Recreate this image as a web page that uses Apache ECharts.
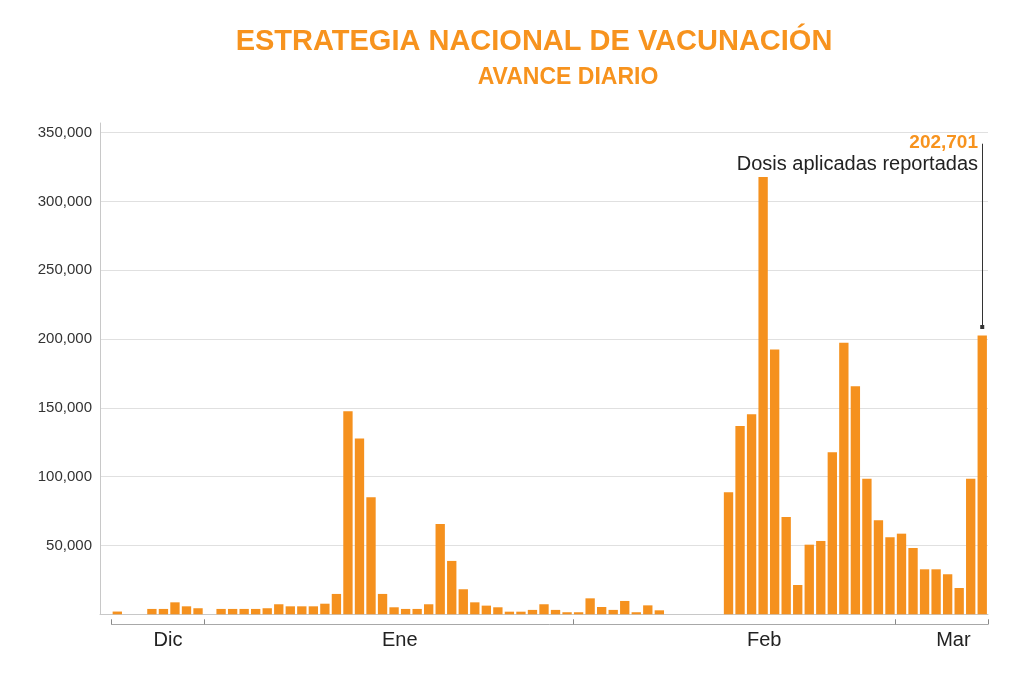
<!DOCTYPE html>
<html>
<head>
<meta charset="utf-8">
<script src="https://cdn.jsdelivr.net/npm/echarts@6/dist/echarts.min.js"></script>
<style>
html,body{margin:0;padding:0;background:#fff;}
#chart{width:1024px;height:683px;}
</style>
</head>
<body>
<div id="chart"></div>
<script>
// ---- data ----
const categories = [
  '2020-12-23','2020-12-24','2020-12-25','2020-12-26','2020-12-27','2020-12-28','2020-12-29','2020-12-30','2020-12-31',
  '2021-01-01','2021-01-02','2021-01-03','2021-01-04','2021-01-05','2021-01-06','2021-01-07','2021-01-08','2021-01-09','2021-01-10',
  '2021-01-11','2021-01-12','2021-01-13','2021-01-14','2021-01-15','2021-01-16','2021-01-17','2021-01-18','2021-01-19','2021-01-20',
  '2021-01-21','2021-01-22','2021-01-23','2021-01-24','2021-01-25','2021-01-26','2021-01-27','2021-01-28','2021-01-29','2021-01-30','2021-01-31',
  '2021-02-01','2021-02-02','2021-02-03','2021-02-04','2021-02-05','2021-02-06','2021-02-07','2021-02-08','2021-02-09','2021-02-10',
  '2021-02-11','2021-02-12','2021-02-13','2021-02-14','2021-02-15','2021-02-16','2021-02-17','2021-02-18','2021-02-19','2021-02-20',
  '2021-02-21','2021-02-22','2021-02-23','2021-02-24','2021-02-25','2021-02-26','2021-02-27','2021-02-28',
  '2021-03-01','2021-03-02','2021-03-03','2021-03-04','2021-03-05','2021-03-06','2021-03-07','2021-03-08','2021-03-09'
];
const dosis = [
  null, 2000, null, null, 3900, 3900, 8700, 5800, 4400,
  null, 3900, 3900, 3900, 3900, 4400, 7300, 5800, 5800, 5800,
  7700, 14800, 147500, 127700, 85000, 14800, 5100, 3900, 3900, 7300,
  65600, 38800, 18200, 8700, 6300, 5100, 1900, 1900, 3200, 7300, 3200,
  1500, 1500, 11600, 5300, 3200, 9700, 1500, 6500, 2900, null,
  null, null, null, null, 88700, 136800, 145300, 317800, 192400, 70700,
  21300, 50600, 53300, 117700, 197400, 165700, 98600, 68300, 56000,
  58600, 48200, 32700, 32700, 29100, 19100, 98600, 202701
];
const yTicks = [0, 50000, 100000, 150000, 200000, 250000, 300000, 350000];
const monthNames = ['Dic', 'Ene', 'Feb', 'Mar'];
const monthLabelAt = [5.9, 26, 57.6, 74];     // label positions in day-slot units
const monthTickAt = [1, 9, 41, 69, 77];       // bracket ticks in day-slot units
const titleText = 'ESTRATEGIA NACIONAL DE VACUNACIÓN';
const subtitleText = 'AVANCE DIARIO';
const annotText = 'Dosis aplicadas reportadas';
const annotLeadTop = 342000;
const annotLeadEnd = 208800;

// ---- chart ----
const FONT = "'Liberation Sans', Arial, Helvetica, sans-serif";
const ORANGE = '#F7931E';
const lastIdx = dosis.length - 1;
const lastVal = dosis[lastIdx];
const fmt = v => v.toLocaleString('en-US');

const chart = echarts.init(document.getElementById('chart'), null, {renderer: 'canvas'});
chart.setOption({
  animation: false,
  backgroundColor: '#fff',
  textStyle: {fontFamily: FONT},
  title: [
    {text: titleText, left: 534, textAlign: 'center', top: 27, padding: 0,
     textStyle: {fontFamily: FONT, fontSize: 29, fontWeight: 'bold', color: ORANGE}},
    {text: subtitleText, left: 568, textAlign: 'center', top: 66, padding: 0,
     textStyle: {fontFamily: FONT, fontSize: 23, fontWeight: 'bold', color: ORANGE}},
    {text: fmt(lastVal), right: 46, top: 133, padding: 0,
     textStyle: {fontFamily: FONT, fontSize: 19, fontWeight: 'bold', color: ORANGE}},
    {text: annotText, right: 46, top: 154, padding: 0,
     textStyle: {fontFamily: FONT, fontSize: 20, fontWeight: 'normal', color: '#222'}}
  ],
  grid: [
    {left: 100, right: 36, top: 132.7, bottom: 68.7, containLabel: false},
    {left: 111.5, right: 36, top: 132.7, bottom: 68.7, containLabel: false},
    {left: 100, right: 36, top: 123, bottom: 68.7, containLabel: false}
  ],
  xAxis: [
    {type: 'category', gridIndex: 0, data: categories, boundaryGap: true,
     axisLine: {show: true, onZero: false, lineStyle: {color: '#c8c8c8', width: 1}},
     axisTick: {show: false}, axisLabel: {show: false}, splitLine: {show: false}},
    {type: 'value', gridIndex: 1, min: 1, max: 77, position: 'bottom', offset: 10,
     axisLine: {show: true, onZero: false, lineStyle: {color: '#a8a8a8', width: 1}},
     axisTick: {show: true, inside: true, length: 5, customValues: monthTickAt,
                lineStyle: {color: '#888', width: 1}},
     axisLabel: {show: true, customValues: monthLabelAt, margin: 6,
                 fontFamily: FONT, fontSize: 20, color: '#222',
                 formatter: v => monthNames[monthLabelAt.indexOf(v)] || ''},
     splitLine: {show: false}},
    {type: 'value', gridIndex: 2, show: false}
  ],
  yAxis: [
    {type: 'value', gridIndex: 0, min: 0, max: 350000, interval: 50000,
     axisLine: {show: false}, axisTick: {show: false},
     axisLabel: {show: true, margin: 8, fontFamily: FONT, fontSize: 15, color: '#333',
                 formatter: v => (v === 0 ? '' : fmt(v))},
     splitLine: {show: true, lineStyle: {color: '#e0e0e0', width: 1}}},
    {type: 'value', gridIndex: 1, show: false},
    {type: 'value', gridIndex: 2, position: 'left',
     axisLine: {show: true, onZero: false, lineStyle: {color: '#c8c8c8', width: 1}},
     axisTick: {show: false}, axisLabel: {show: false}, splitLine: {show: false}}
  ],
  series: [{
    type: 'bar',
    xAxisIndex: 0, yAxisIndex: 0,
    data: dosis,
    barCategoryGap: '19%',
    itemStyle: {color: '#F5911E'},
    silent: true,
    markLine: {
      silent: true,
      symbol: ['none', 'rect'],
      symbolSize: 4,
      label: {show: false},
      lineStyle: {color: '#333', width: 1, type: 'solid'},
      data: [[
        {coord: [categories[lastIdx], annotLeadTop]},
        {coord: [categories[lastIdx], annotLeadEnd]}
      ]]
    }
  }]
});
</script>
</body>
</html>
